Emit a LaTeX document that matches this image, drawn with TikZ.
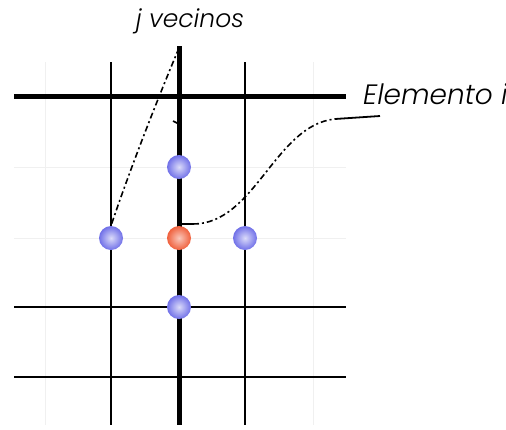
\documentclass[tikz,border=0pt]{standalone}
\usepackage{fontspec}
\setmainfont{Poppins}[ItalicFont={Poppins Light Italic}]
\usetikzlibrary{positioning}
\definecolor{GrdFaint}{HTML}{F0F0F0}
\definecolor{BallBlue}{HTML}{7070E8}
\definecolor{BallRed}{HTML}{F0603C}
\tikzset{
  grdthick/.style={line width=5pt,draw=black},
  grdthin/.style={line width=2.4pt,draw=black},
  grdfaint/.style={line width=1pt,draw=GrdFaint},
  nbrball/.style={circle,minimum size=24pt,inner sep=0pt,shading=radial,
    inner color=BallBlue!25!white,outer color=BallBlue},
  elemball/.style={nbrball,inner color=BallRed!35!white,outer color=BallRed},
  leadline/.style={line width=1.6pt,dash pattern=on 6pt off 3pt on 2pt off 3pt},
  tagtext/.style={font=\fontsize{25}{28}\selectfont\itshape,inner sep=0pt}
}

\begin{document}
\begin{tikzpicture}[x=1pt,y=-1pt,node distance=70pt]
    \useasboundingbox (0,0) rectangle (506,429);
    % faint grid
    \foreach \gy in {167,238} \draw[grdfaint] (14,\gy) -- (346,\gy);
    \foreach \gx in {45,313} \draw[grdfaint] (\gx,62) -- (\gx,425);
    % mesh lines
    \draw[grdthick] (14,96) -- (346,96);
    \draw[grdthick] (179,46) -- (179,425);
    \foreach \gx in {111,245} \draw[grdthin] (\gx,62) -- (\gx,425);
    \foreach \gy in {307,377} \draw[grdthin] (14,\gy) -- (346,\gy);
    \draw[line width=1.6pt] (173,121) -- (179,124);
    % element and neighbours
    \node[elemball,on grid] (elem) at (179,238) {};
    \node[nbrball,on grid,above=71pt of elem] (nup) {};
    \node[nbrball,on grid,below=69pt of elem] (ndown) {};
    \node[nbrball,on grid,left=68pt of elem] (nleft) {};
    \node[nbrball,on grid,right=66pt of elem] (nright) {};
    % labels
    \node[tagtext] (vecinos) at (190,21) {j vecinos};
    \node[tagtext,font=\fontsize{28}{30}\selectfont\itshape,anchor=base west] (elemento) at (363,104) {Elemento i};
    \coordinate (vtip) at (179,48);
    \coordinate (etip) at (181,224);
    \coordinate (ebend) at (335,119);
    \coordinate (etail) at (380,116);
    \draw[leadline] (vtip) .. controls (155,105) and (128,175) .. (nleft.north);
    \draw[line width=1.8pt] (etip) -- (193,224);
    \draw[leadline] (193,224) .. controls (255,224) and (275,125) .. (ebend);
    \draw[line width=1.8pt] (ebend) -- (etail);
  \end{tikzpicture}
\end{document}
